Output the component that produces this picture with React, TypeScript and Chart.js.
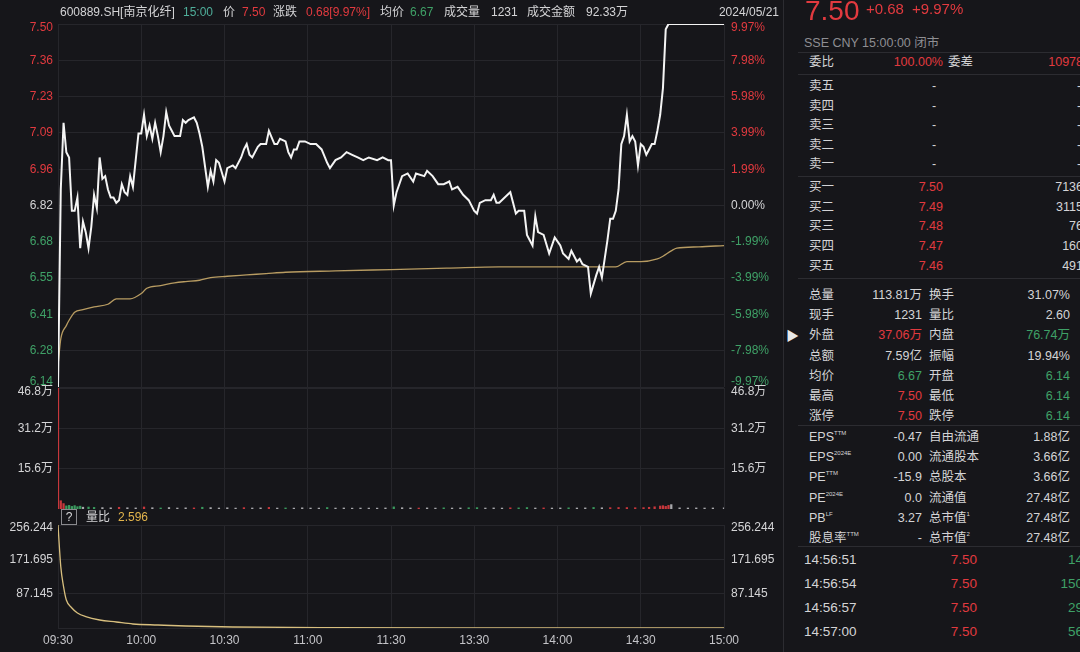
import React, { useEffect, useRef } from 'react';
import { Chart, registerables } from 'chart.js';

Chart.register(...registerables);

// ---------------- data ----------------
const PREV_CLOSE = 6.82;
const LIMIT_UP = 7.5;
const LIMIT_DOWN = 6.14;
const PCT_LIMIT = 9.97;

const timeLabels = ['09:30', '10:00', '10:30', '11:00', '11:30', '13:30', '14:00', '14:30', '15:00'];
const priceTickLabels = ['7.50', '7.36', '7.23', '7.09', '6.96', '6.82', '6.68', '6.55', '6.41', '6.28', '6.14'];
const pctTickLabels = ['9.97%', '7.98%', '5.98%', '3.99%', '1.99%', '0.00%', '-1.99%', '-3.99%', '-5.98%', '-7.98%', '-9.97%'];
const volTickLabels = ['15.6万', '31.2万', '46.8万'];
const ratioTickLabels = ['87.145', '171.695', '256.244'];
const RATIO_NOW = 2.596;

// minute index since 09:30 (0..240, lunch break removed)
const priceMinutes = [
  0, 1, 2, 3, 4, 5, 6, 7, 8, 9, 10, 11, 12, 13, 14, 15, 16, 17, 18, 19, 20, 21, 22, 23, 24, 25, 26, 27, 28, 29,
  30, 31, 32, 33, 34, 35, 36, 37, 38, 39, 40, 41, 42, 44, 45, 46, 47, 49, 50, 51, 52, 54, 55, 56, 57, 58, 60, 61, 63, 64,
  66, 67, 68, 69, 70, 72, 73, 75, 76, 78, 79, 80, 82, 83, 84, 85, 86, 87, 89, 91, 93, 95, 97, 98, 100, 102, 104, 106, 108, 110,
  112, 115, 117, 119, 120, 121, 122, 124, 126, 128, 129, 132, 133, 135, 137, 139, 141, 142, 144, 146, 148, 150, 151, 152, 154, 156, 157, 158, 159,
  162, 163, 165, 166, 168, 169, 171, 172, 173, 175, 177, 179, 181, 182, 184, 185, 187, 188, 189, 191, 192, 194, 195, 196, 197, 198, 199,
  200, 201, 202, 203, 204, 205, 206, 207, 208, 209, 210, 211, 212, 213, 214, 215, 216, 217, 218, 219, 220, 240,
];
const priceValues = [
  6.14, 6.88, 7.13, 7.02, 7.0, 6.8, 6.8, 6.85, 6.66, 6.76, 6.72, 6.66, 6.74, 6.86, 6.81, 7.0, 6.92, 6.93, 6.88, 6.85, 6.85, 6.83, 6.84, 6.9, 6.87, 6.86, 6.93, 6.89, 6.99, 7.09,
  7.09, 7.16, 7.08, 7.12, 7.07, 7.13, 7.08, 7.02, 7.08, 7.17, 7.12, 7.1, 7.08, 7.08, 7.14, 7.13, 7.14, 7.15, 7.13, 7.09, 7.04, 6.89, 6.95, 6.91, 6.99, 6.98, 6.91, 6.96, 6.97, 6.96,
  7.0, 7.03, 7.05, 7.01, 7.0, 7.04, 7.05, 7.05, 7.1, 7.05, 7.05, 7.07, 7.06, 7.02, 7.0, 7.03, 7.03, 7.06, 7.06, 7.05, 7.05, 7.03, 6.98, 6.96, 6.99, 7.0, 7.02, 7.01, 7.0, 6.99,
  7.0, 6.99, 7.0, 6.99, 6.99, 6.82, 6.87, 6.93, 6.94, 6.91, 6.94, 6.93, 6.95, 6.93, 6.9, 6.9, 6.91, 6.88, 6.89, 6.86, 6.84, 6.8, 6.79, 6.83, 6.84, 6.84, 6.86, 6.83, 6.83,
  6.86, 6.87, 6.79, 6.8, 6.8, 6.71, 6.67, 6.78, 6.72, 6.71, 6.64, 6.7, 6.67, 6.64, 6.62, 6.65, 6.61, 6.62, 6.6, 6.59, 6.49, 6.56, 6.59, 6.55, 6.62, 6.69, 6.77,
  6.77, 6.8, 6.88, 7.05, 7.08, 7.16, 7.06, 7.08, 7.06, 6.97, 7.05, 7.04, 7.01, 7.03, 7.05, 7.05, 7.1, 7.16, 7.26, 7.48, 7.5, 7.5,
];

const avgMinutes = [0, 1, 3, 4, 6, 9, 13, 18, 21, 26, 30, 32, 37, 42, 46, 51, 55, 61, 68, 75, 82, 100, 120, 140, 159, 170, 185, 201, 205, 210, 216, 218, 221, 223, 231, 240];
const avgValues = [6.22, 6.32, 6.37, 6.39, 6.42, 6.43, 6.44, 6.45, 6.47, 6.47, 6.49, 6.51, 6.52, 6.53, 6.535, 6.54, 6.55, 6.555, 6.56, 6.565, 6.57, 6.575, 6.58, 6.585, 6.59, 6.59, 6.59, 6.59, 6.61, 6.61, 6.62, 6.63, 6.65, 6.66, 6.665, 6.67];

const volMinutes = [
  0, 1, 2, 3, 4, 5, 6, 7, 8, 9, 11, 13, 16, 19, 22, 25, 28, 31, 34, 37, 40, 43, 46, 49, 52, 55, 58, 61, 64, 67, 70, 73, 76, 79, 82, 85, 88, 91, 94, 97,
  100, 103, 106, 109, 112, 115, 118, 121, 124, 127, 130, 133, 136, 139, 142, 145, 148, 151, 154, 157, 160, 163, 166, 169, 172, 175, 178, 181, 184, 187,
  190, 193, 196, 199, 202, 205, 208, 211, 213, 215, 217, 218, 219, 220, 221, 224, 227, 230, 233, 236, 240,
];
const volValues = [
  468000, 32000, 21000, 12000, 14000, 10000, 13000, 9000, 11000, 7000, 7600, 6200, 5400, 4600, 6600, 4800, 4200, 7800, 5000, 4000, 5600, 3800, 4500, 4200, 6800, 5400, 3900, 4700, 3600, 5200,
  3900, 4300, 6200, 3700, 4100, 3500, 4600, 3800, 3600, 5600, 3700, 4000, 3400, 3800, 3600, 3500, 4100, 8200, 5000, 4000, 3700, 4200, 3600, 4500, 3800, 4100, 4800, 5300, 3800, 4200,
  3700, 4600, 4300, 5600, 3900, 4200, 3800, 4100, 4500, 3900, 4300, 6000, 4800, 5200, 5800, 5600, 5000, 5400, 6600, 8600, 11500, 12800, 10200, 14000, 17000, 4400, 3900, 4200, 3800, 4000, 5000,
];
const volDirs = [
  'u', 'u', 'u', 'd', 'd', 'd', 'd', 'd', 'd', 'n', 'd', 'd', 'n', 'n', 'u', 'n', 'n', 'u', 'n', 'd', 'n', 'n', 'n', 'u', 'd', 'n', 'n', 'n', 'n', 'u',
  'n', 'n', 'u', 'n', 'd', 'n', 'n', 'n', 'n', 'd', 'n', 'n', 'n', 'n', 'n', 'n', 'n', 'd', 'n', 'n', 'u', 'n', 'n', 'd', 'n', 'n', 'd', 'd', 'n', 'n',
  'n', 'u', 'd', 'd', 'n', 'u', 'n', 'n', 'd', 'n', 'n', 'd', 'n', 'u', 'u', 'u', 'u', 'u', 'u', 'u', 'u', 'u', 'u', 'u', 'n', 'n', 'n', 'n', 'n', 'n', 'n',
];

const ratioMinutes = [0, 1, 2, 3, 5, 7, 10, 15, 21, 27, 36, 46, 63, 99, 150, 200, 240];
const ratioValues = [256.244, 153.7, 104.4, 71.6, 51.9, 39.6, 30.5, 22.3, 17.4, 12.5, 10.0, 7.5, 5.1, 3.4, 2.9, 2.7, 2.596];

// right panel text
const askLabels = ['卖五', '卖四', '卖三', '卖二', '卖一'];
const bidLabels = ['买一', '买二', '买三', '买四', '买五'];
const bidPrices = ['7.50', '7.49', '7.48', '7.47', '7.46'];
const bidVols = ['7136', '3115', '76', '160', '491'];
const statLabels1 = ['总量', '现手', '外盘', '总额', '均价', '最高', '涨停'];
const statValues1 = ['113.81万', '1231', '37.06万', '7.59亿', '6.67', '7.50', '7.50'];
const statTone1 = ['n', 'n', 'u', 'n', 'd', 'u', 'u'];
const statLabels2 = ['换手', '量比', '内盘', '振幅', '开盘', '最低', '跌停'];
const statValues2 = ['31.07%', '2.60', '76.74万', '19.94%', '6.14', '6.14', '6.14'];
const statTone2 = ['n', 'n', 'd', 'n', 'd', 'd', 'd'];
const finLabels1 = ['EPS', 'EPS', 'PE', 'PE', 'PB', '股息率'];
const finSup1 = ['TTM', '2024E', 'TTM', '2024E', 'LF', 'TTM'];
const finValues1 = ['-0.47', '0.00', '-15.9', '0.0', '3.27', '-'];
const finLabels2 = ['自由流通', '流通股本', '总股本', '流通值', '总市值', '总市值'];
const finSup2 = ['', '', '', '', '1', '2'];
const finValues2 = ['1.88亿', '3.66亿', '3.66亿', '27.48亿', '27.48亿', '27.48亿'];
const tradeTimes = ['14:56:51', '14:56:54', '14:56:57', '14:57:00'];
const tradePrices = ['7.50', '7.50', '7.50', '7.50'];
const tradeVols = ['14', '150', '29', '56'];

// ---------------- style ----------------
const FONT = '"Liberation Sans", "Noto Sans CJK SC", Arial, sans-serif';
const BG = '#16161a';
const GRID = '#26262b';
const RED = '#e23a3f';
const GREEN = '#3fa167';
const TEAL = '#4fae9a';
const TXT = '#d4d4d6';
const GRAY = '#8e8e93';
const GOLD = '#e2b44c';
const AVG_COL = '#b89c62';
const RATIO_COL = '#d8bf7e';
const SEP = '#2c2c31';
const BAR_RED = '#c8373c';
const BAR_GREEN = '#3a9a5e';
const BAR_GRAY = '#a8a8ac';

const W = 783;
const H = 652;
const LEFT_W = 58;
const RIGHT_W = 59;
const PRICE_TOP = 24;
const PRICE_BOTTOM = 387;
const VOL_TOP = 388;
const VOL_BOTTOM = 509;
const RATIO_TOP = 525;
const RATIO_BOTTOM = 628;

const tone = (t: string) => (t === 'u' ? RED : t === 'd' ? GREEN : TXT);

// ---------------- chart helpers ----------------
const nudgePlugin = (topShift: number, bottomShift: number) => ({
  id: 'edgeNudge',
  beforeDraw(chart: any) {
    Object.values(chart.scales).forEach((s: any) => {
      if (s.axis !== 'y') return;
      const items = s.getLabelItems(chart.chartArea);
      if (!items || !items.length) return;
      let top = items[0];
      let bot = items[0];
      items.forEach((it: any) => {
        if (it.options.translation[1] < top.options.translation[1]) top = it;
        if (it.options.translation[1] > bot.options.translation[1]) bot = it;
      });
      if (Math.abs(top.options.translation[1] - chart.chartArea.top) < 2) top.options.translation[1] += topShift;
      if (Math.abs(bot.options.translation[1] - chart.chartArea.bottom) < 2) bot.options.translation[1] += bottomShift;
    });
  },
});

const xScale = (showLabels: boolean) => ({
  type: 'linear',
  min: 0,
  max: 240,
  offset: false,
  afterBuildTicks: (s: any) => {
    s.ticks = timeLabels.map((_, i) => ({ value: i * 30 }));
  },
  ticks: {
    display: showLabels,
    autoSkip: false,
    maxRotation: 0,
    padding: 5,
    color: '#c4c4c8',
    font: { family: FONT, size: 12 },
    callback: (_v: any, i: number) => timeLabels[i],
  },
  grid: { color: GRID, drawTicks: false, offset: false, lineWidth: 1 },
  border: { display: showLabels, color: GRID },
  afterFit: (s: any) => {
    s.height = showLabels ? H - RATIO_BOTTOM : 0;
  },
});

const yScale = (
  position: 'left' | 'right',
  min: number,
  max: number,
  values: number[],
  labels: string[],
  color: any,
  showGrid: boolean,
) => ({
  type: 'linear',
  position,
  min,
  max,
  afterBuildTicks: (s: any) => {
    s.ticks = values.map((v) => ({ value: v }));
  },
  ticks: {
    autoSkip: false,
    padding: position === 'left' ? 5 : 7,
    color,
    font: { family: FONT, size: 12 },
    callback: (_v: any, i: number) => labels[i],
  },
  grid: { display: showGrid, color: GRID, drawTicks: false },
  border: { display: false },
  afterFit: (s: any) => {
    s.width = position === 'left' ? LEFT_W : RIGHT_W;
  },
});

const baseOptions = (top: number, bottom: number) => ({
  animation: false,
  responsive: false,
  events: [],
  layout: { padding: { top, bottom, left: 0, right: 0 } },
  plugins: { legend: { display: false }, tooltip: { enabled: false } },
});

// ---------------- chart configs ----------------
const priceTickValues = priceTickLabels.map((_, i) => LIMIT_UP - (i * (LIMIT_UP - LIMIT_DOWN)) / (priceTickLabels.length - 1));
const pctTickValues = pctTickLabels.map((_, i) => PCT_LIMIT - (i * 2 * PCT_LIMIT) / (pctTickLabels.length - 1));
const volTickValues = volTickLabels.map((l) => parseFloat(l) * 10000);
const VOL_MAX = Math.max(...volTickValues);
const ratioTickValues = [...ratioTickLabels.map((l) => parseFloat(l)), RATIO_NOW];
const ratioAllLabels = [...ratioTickLabels, ''];
const RATIO_MAX = Math.max(...ratioTickValues);

const priceConfig: any = {
  type: 'line',
  data: {
    datasets: [
      {
        data: priceMinutes.map((m, i) => ({ x: m, y: priceValues[i] })),
        borderColor: '#f4f4f4',
        borderWidth: 2,
        pointRadius: 0,
        tension: 0,
        yAxisID: 'y',
        order: 0,
      },
      {
        data: avgMinutes.map((m, i) => ({ x: m, y: avgValues[i] })),
        borderColor: AVG_COL,
        borderWidth: 1.3,
        pointRadius: 0,
        cubicInterpolationMode: 'monotone',
        yAxisID: 'y',
        order: 1,
      },
    ],
  },
  options: {
    ...baseOptions(PRICE_TOP, H - PRICE_BOTTOM),
    scales: {
      x: xScale(false),
      y: yScale('left', LIMIT_DOWN, LIMIT_UP, priceTickValues, priceTickLabels,
        (c: any) => (c.tick.value > PREV_CLOSE + 1e-6 ? RED : c.tick.value < PREV_CLOSE - 1e-6 ? GREEN : TXT), true),
      yPct: yScale('right', -PCT_LIMIT, PCT_LIMIT, pctTickValues, pctTickLabels,
        (c: any) => (c.tick.value > 1e-6 ? RED : c.tick.value < -1e-6 ? GREEN : TXT), false),
    },
  },
  plugins: [nudgePlugin(4, -5)],
};

const volConfig: any = {
  type: 'bar',
  data: {
    datasets: [
      {
        data: volMinutes.map((m, i) => ({ x: m, y: volValues[i] })),
        backgroundColor: volDirs.map((d) => (d === 'u' ? BAR_RED : d === 'd' ? BAR_GREEN : BAR_GRAY)),
        barThickness: 1.6,
        yAxisID: 'y',
      },
    ],
  },
  options: {
    ...baseOptions(VOL_TOP, H - VOL_BOTTOM),
    scales: {
      x: xScale(false),
      y: yScale('left', 0, VOL_MAX, volTickValues, volTickLabels, TXT, true),
      yR: yScale('right', 0, VOL_MAX, volTickValues, volTickLabels, TXT, false),
    },
  },
  plugins: [nudgePlugin(4, 0)],
};

const ratioConfig: any = {
  type: 'line',
  data: {
    datasets: [
      {
        data: ratioMinutes.map((m, i) => ({ x: m, y: ratioValues[i] })),
        borderColor: RATIO_COL,
        borderWidth: 1.3,
        pointRadius: 0,
        cubicInterpolationMode: 'monotone',
        yAxisID: 'y',
      },
    ],
  },
  options: {
    ...baseOptions(RATIO_TOP, 0),
    scales: {
      x: xScale(true),
      y: yScale('left', RATIO_NOW, RATIO_MAX, ratioTickValues, ratioAllLabels, TXT, true),
      yR: yScale('right', RATIO_NOW, RATIO_MAX, ratioTickValues, ratioAllLabels, TXT, false),
    },
  },
  plugins: [nudgePlugin(3, 0)],
};

// ---------------- components ----------------
function ChartCanvas({ config }: { config: any }) {
  const ref = useRef<HTMLCanvasElement>(null);
  useEffect(() => {
    if (!ref.current) return;
    const c = new Chart(ref.current, config);
    return () => c.destroy();
  }, [config]);
  return <canvas ref={ref} width={W} height={H} style={{ position: 'absolute', left: 0, top: 0, width: W, height: H }} />;
}

type TP = { x: number; y: number; c?: string; s?: number; r?: boolean; children: React.ReactNode };
function T({ x, y, c = TXT, s = 12, r = false, children }: TP) {
  const st: React.CSSProperties = {
    position: 'absolute',
    top: y,
    transform: 'translateY(-50%)',
    color: c,
    fontSize: s,
    lineHeight: 1,
    whiteSpace: 'nowrap',
  };
  if (r) st.right = 1080 - x;
  else st.left = x;
  return <div style={st}>{children}</div>;
}

const HLine = ({ y }: { y: number }) => (
  <div style={{ position: 'absolute', left: 798, width: 282, top: y, height: 1, background: SEP }} />
);

const Sup = ({ t }: { t: string }) => (t ? <span style={{ fontSize: 6, verticalAlign: 6 }}>{t}</span> : null);

export default function App() {
  useEffect(() => {
    Chart.defaults.font.family = FONT;
    document.body.style.margin = '0';
    document.body.style.background = BG;
  }, []);

  return (
    <div style={{ position: 'fixed', left: 0, top: 0, width: 1080, height: 652, background: BG, overflow: 'hidden', fontFamily: FONT }}>
      <ChartCanvas config={priceConfig} />
      <ChartCanvas config={volConfig} />
      <ChartCanvas config={ratioConfig} />

      {/* chart header */}
      <T x={60} y={12}>600889.SH[南京化纤]</T>
      <T x={183} y={12} c={TEAL}>15:00</T>
      <T x={223} y={12}>价</T>
      <T x={242} y={12} c={RED}>7.50</T>
      <T x={273} y={12}>涨跌</T>
      <T x={306} y={12} c={RED}>0.68[9.97%]</T>
      <T x={380} y={12}>均价</T>
      <T x={410} y={12} c={GREEN}>6.67</T>
      <T x={444} y={12}>成交量</T>
      <T x={491} y={12}>1231</T>
      <T x={527} y={12}>成交金额</T>
      <T x={586} y={12}>92.33万</T>
      <T x={779} y={12} r>2024/05/21</T>

      {/* ratio header */}
      <div style={{ position: 'absolute', left: 61, top: 509, width: 14, height: 14, border: '1px solid #8a8a8e', color: TXT, fontSize: 12, lineHeight: '14px', textAlign: 'center' }}>?</div>
      <T x={86} y={517}>量比</T>
      <T x={118} y={517} c={GOLD}>2.596</T>

      {/* right panel */}
      <div style={{ position: 'absolute', left: 783, top: 0, width: 1, height: 652, background: SEP }} />
      <T x={786} y={335} c="#e8e8e8" s={13}>▶</T>
      <div style={{ position: 'absolute', left: 805, top: 19, transform: 'translateY(-78%)', color: RED, fontSize: 28, lineHeight: 1 }}>7.50</div>
      <T x={866} y={8} c={RED} s={15}>+0.68</T>
      <T x={912} y={8} c={RED} s={15}>+9.97%</T>
      <T x={804} y={43} c={GRAY} s={12.5}>SSE CNY 15:00:00 闭市</T>
      <HLine y={52} />
      <T x={809} y={62} s={12.5}>委比</T>
      <T x={943} y={62} c={RED} s={12.5} r>100.00%</T>
      <T x={948} y={62} s={12.5}>委差</T>
      <T x={1083} y={62} c={RED} s={12.5} r>10978</T>
      <HLine y={74} />
      {askLabels.map((l, i) => (
        <React.Fragment key={l}>
          <T x={809} y={86 + i * 19.6} s={12.5}>{l}</T>
          <T x={932} y={86 + i * 19.6} s={12.5}>-</T>
          <T x={1077} y={86 + i * 19.6} s={12.5}>-</T>
        </React.Fragment>
      ))}
      <HLine y={176} />
      {bidLabels.map((l, i) => (
        <React.Fragment key={l}>
          <T x={809} y={187 + i * 19.7} s={12.5}>{l}</T>
          <T x={943} y={187 + i * 19.7} c={RED} s={12.5} r>{bidPrices[i]}</T>
          <T x={1083} y={187 + i * 19.7} s={12.5} r>{bidVols[i]}</T>
        </React.Fragment>
      ))}
      <HLine y={278} />
      {statLabels1.map((l, i) => (
        <React.Fragment key={l}>
          <T x={809} y={295 + i * 20.2} s={12.5}>{l}</T>
          <T x={922} y={295 + i * 20.2} c={tone(statTone1[i])} s={12.5} r>{statValues1[i]}</T>
          <T x={929} y={295 + i * 20.2} s={12.5}>{statLabels2[i]}</T>
          <T x={1070} y={295 + i * 20.2} c={tone(statTone2[i])} s={12.5} r>{statValues2[i]}</T>
        </React.Fragment>
      ))}
      <HLine y={425} />
      {finLabels1.map((l, i) => (
        <React.Fragment key={i}>
          <T x={809} y={437 + i * 20.2} s={12.5}>{l}<Sup t={finSup1[i]} /></T>
          <T x={922} y={437 + i * 20.2} s={12.5} r>{finValues1[i]}</T>
          <T x={929} y={437 + i * 20.2} s={12.5}>{finLabels2[i]}<Sup t={finSup2[i]} /></T>
          <T x={1070} y={437 + i * 20.2} s={12.5} r>{finValues2[i]}</T>
        </React.Fragment>
      ))}
      <HLine y={546} />
      {tradeTimes.map((t, i) => (
        <React.Fragment key={t}>
          <T x={804} y={560 + i * 24} s={13.5}>{t}</T>
          <T x={977} y={560 + i * 24} c={RED} s={13.5} r>{tradePrices[i]}</T>
          <T x={1083} y={560 + i * 24} c={GREEN} s={13.5} r>{tradeVols[i]}</T>
        </React.Fragment>
      ))}
    </div>
  );
}
